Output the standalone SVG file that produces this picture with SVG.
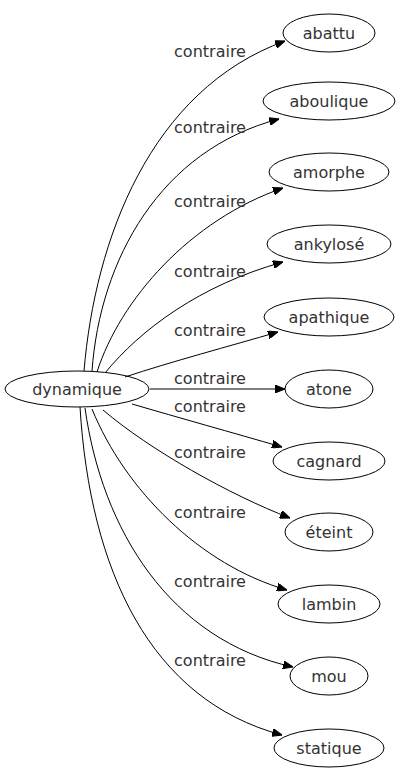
<svg xmlns="http://www.w3.org/2000/svg" width="400" height="779" viewBox="0 0 400 779">
<style>
.n ellipse{fill:none;stroke:#000;stroke-width:1}
.n text{font-family:"DejaVu Sans",sans-serif;font-size:16px;fill:#333;text-anchor:middle}
.e path{fill:none;stroke:#000;stroke-width:1;marker-end:url(#ah)}
.e text{font-family:"DejaVu Sans",sans-serif;font-size:16px;fill:#333;text-anchor:middle}
</style>
<defs>
<marker id="ah" viewBox="0 0 10 8" refX="10" refY="4" markerWidth="10" markerHeight="8" markerUnits="userSpaceOnUse" orient="auto">
<path d="M0,0 L10,4 L0,8 Z" fill="#000" stroke="#000" stroke-width="1"/>
</marker>
</defs>
<rect width="400" height="779" fill="#fff"/>
<g id="edges" class="e">
<path d="M84,371 C95,240 150,90 285,41"/>
<path d="M92,371 C100,260 160,150 279,119"/>
<path d="M97,372 C120,300 190,220 283,188"/>
<path d="M105,373 C140,330 200,285 283,262"/>
<path d="M125,377 C170,362 230,346 278,332"/>
<path d="M150,389 L285,389"/>
<path d="M132,404 C180,418 230,432 282,447"/>
<path d="M103,410 C150,450 230,495 290,518"/>
<path d="M92,409 C125,490 200,565 287,590"/>
<path d="M85,408 C102,530 170,640 293,667"/>
<path d="M80,407 C90,570 150,700 282,735"/>
<text x="210" y="57">contraire</text>
<text x="210" y="133">contraire</text>
<text x="210" y="207">contraire</text>
<text x="210" y="277">contraire</text>
<text x="210" y="336">contraire</text>
<text x="210" y="384">contraire</text>
<text x="210" y="412">contraire</text>
<text x="210" y="458">contraire</text>
<text x="210" y="518">contraire</text>
<text x="210" y="587">contraire</text>
<text x="210" y="666">contraire</text>
</g>
<g id="dynamique" class="n"><ellipse cx="77" cy="389" rx="72" ry="18"/><text x="77" y="395">dynamique</text></g>
<g id="abattu" class="n"><ellipse cx="329" cy="33" rx="46" ry="19"/><text x="329" y="39">abattu</text></g>
<g id="aboulique" class="n"><ellipse cx="329" cy="101" rx="66" ry="19"/><text x="329" y="107">aboulique</text></g>
<g id="amorphe" class="n"><ellipse cx="329" cy="172" rx="60" ry="19"/><text x="329" y="178">amorphe</text></g>
<g id="ankylose" class="n"><ellipse cx="329" cy="244" rx="62" ry="19"/><text x="329" y="250">ankylosé</text></g>
<g id="apathique" class="n"><ellipse cx="329" cy="317" rx="65" ry="19"/><text x="329" y="323">apathique</text></g>
<g id="atone" class="n"><ellipse cx="329" cy="389" rx="44" ry="19"/><text x="329" y="395">atone</text></g>
<g id="cagnard" class="n"><ellipse cx="329" cy="461" rx="56" ry="19"/><text x="329" y="467">cagnard</text></g>
<g id="eteint" class="n"><ellipse cx="329" cy="532" rx="44" ry="19"/><text x="329" y="538">éteint</text></g>
<g id="lambin" class="n"><ellipse cx="329" cy="604" rx="51" ry="19"/><text x="329" y="610">lambin</text></g>
<g id="mou" class="n"><ellipse cx="329" cy="676" rx="39" ry="19"/><text x="329" y="682">mou</text></g>
<g id="statique" class="n"><ellipse cx="329" cy="748" rx="55" ry="19"/><text x="329" y="754">statique</text></g>
</svg>
